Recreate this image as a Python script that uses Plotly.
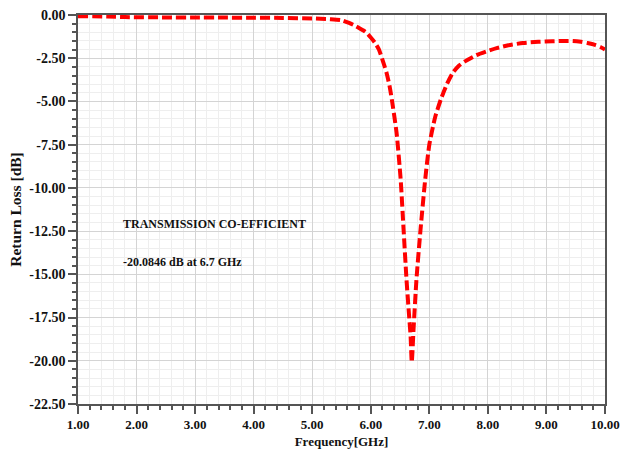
import plotly.graph_objects as go

freq = [1.0, 1.5, 1.8, 2.5, 3.0, 3.5, 4.0, 4.5, 5.0, 5.3, 5.5, 5.63, 5.75, 5.85, 5.91, 6.0, 6.07,
        6.14, 6.2, 6.27, 6.32, 6.36, 6.44, 6.51, 6.56, 6.61, 6.65, 6.68, 6.70,
        6.73, 6.78, 6.85, 6.93, 7.0, 7.1, 7.2, 7.3, 7.4, 7.5, 7.6, 7.8, 8.0,
        8.15, 8.35, 8.6, 8.86, 9.1, 9.32, 9.45, 9.59, 9.7, 9.83, 9.92, 10.0]
rl = [-0.07, -0.09, -0.12, -0.14, -0.15, -0.15, -0.16, -0.17, -0.2, -0.24, -0.3, -0.46, -0.65, -0.85, -0.98, -1.3, -1.6,
      -2.0, -2.6, -3.35, -4.1, -4.9, -6.8, -9.5, -12.4, -15.3, -17.2, -18.6, -20.08,
      -18.2, -15.3, -12.4, -9.5, -7.5, -5.9, -4.85, -4.0, -3.35, -2.95, -2.7, -2.33, -2.08,
      -1.92, -1.75, -1.62, -1.55, -1.52, -1.5, -1.5, -1.55, -1.62, -1.73, -1.85, -2.0]

xticks = [1, 2, 3, 4, 5, 6, 7, 8, 9, 10]
xticklabels = ["1.00", "2.00", "3.00", "4.00", "5.00", "6.00", "7.00", "8.00", "9.00", "10.00"]
yticks = [0, -2.5, -5, -7.5, -10, -12.5, -15, -17.5, -20, -22.5]
yticklabels = ["0.00", "-2.50", "-5.00", "-7.50", "-10.00", "-12.50", "-15.00", "-17.50", "-20.00", "-22.50"]

font = "Times New Roman, Liberation Serif, serif"

fig = go.Figure()
fig.add_trace(go.Scatter(x=freq, y=rl, mode="lines",
                         line=dict(color="#ff0000", width=4, dash="10px,4px", shape="spline", smoothing=0.6),
                         showlegend=False))

fig.update_layout(
    width=620, height=452,
    margin=dict(l=78, r=15, t=15, b=48),
    paper_bgcolor="white", plot_bgcolor="white",
    font=dict(family=font, size=13, color="#111111"),
    xaxis=dict(range=[1, 10], tickvals=xticks, ticktext=xticklabels, automargin=False,
               ticklabeloverflow="allow",
               showline=True, linecolor="#555555", linewidth=1.5, mirror=True,
               ticks="outside", ticklen=8, tickcolor="#555555", tickwidth=1.5,
               showgrid=True, gridcolor="#d4d4d4", gridwidth=1,
               minor=dict(dtick=0.2, ticks="outside", ticklen=4, tickcolor="#555555",
                          showgrid=True, gridcolor="#eeeeee"),
               tickfont=dict(family=font, size=13, color="#111111", weight="bold"),
               title=dict(text="<b>Frequency[GHz]</b>", font=dict(family=font, size=13), standoff=6),
               zeroline=False),
    yaxis=dict(range=[-22.5, 0], tickvals=yticks, ticktext=yticklabels, automargin=False,
               showline=True, linecolor="#555555", linewidth=1.5, mirror=True,
               ticks="outside", ticklen=8, tickcolor="#555555", tickwidth=1.5,
               showgrid=True, gridcolor="#d4d4d4", gridwidth=1,
               minor=dict(dtick=0.5, ticks="outside", ticklen=4, tickcolor="#555555",
                          showgrid=True, gridcolor="#eeeeee"),
               tickfont=dict(family=font, size=14, color="#111111", weight="bold"),
               title=dict(text="<b>Return Loss [dB]</b>", font=dict(family=font, size=15.5), standoff=4),
               zeroline=False),
)

fig.add_annotation(x=1.74, y=-12.1, xref="x", yref="y", text="<b>TRANSMISSION CO-EFFICIENT</b>",
                   showarrow=False, xanchor="left", yanchor="middle",
                   font=dict(family=font, size=12, color="#111111"))
fig.add_annotation(x=1.74, y=-14.28, xref="x", yref="y", text="<b>-20.0846 dB at 6.7 GHz</b>",
                   showarrow=False, xanchor="left", yanchor="middle",
                   font=dict(family=font, size=12, color="#111111"))

fig.write_html("out.html")
